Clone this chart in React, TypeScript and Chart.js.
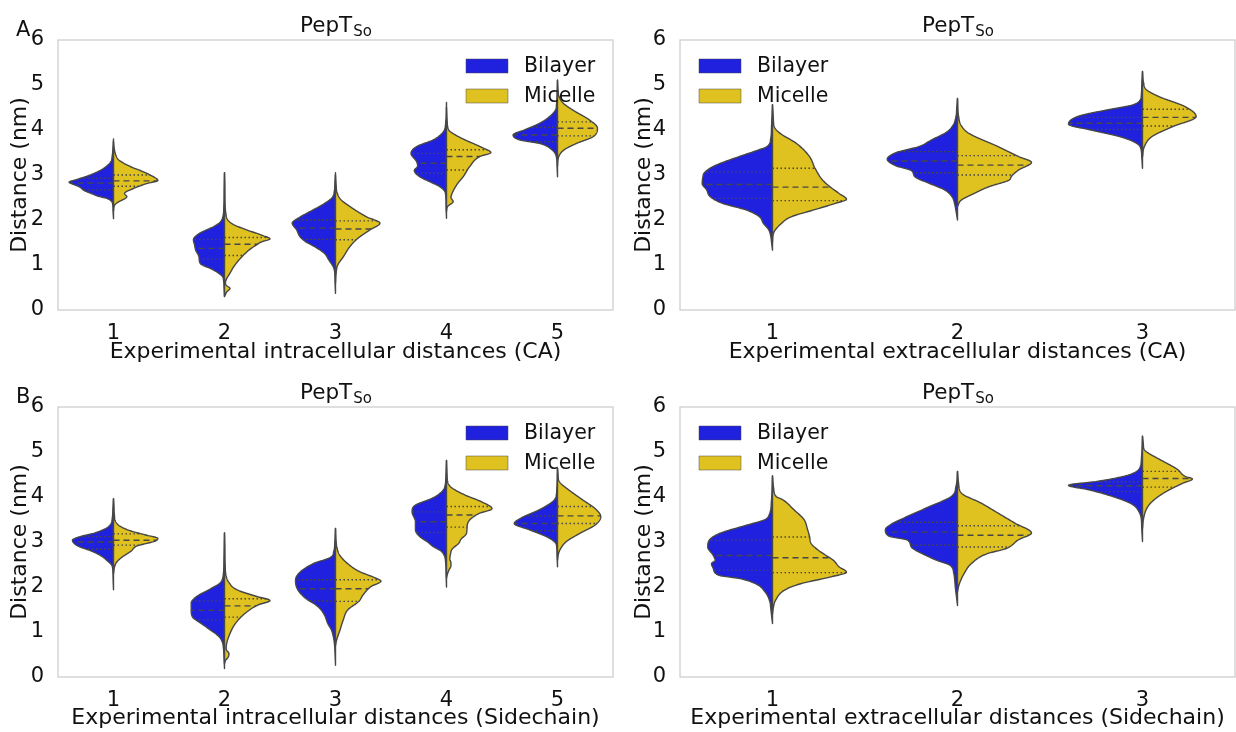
import React, { useEffect, useRef } from "react";
import { Chart, registerables } from "chart.js";

Chart.register(...registerables);

// ---- series, categories, axis ticks ----
const SERIES = ["Bilayer", "Micelle"];
const SERIES_COLORS = ["#2020df", "#dfc120"];
const EDGE = "#474747";
const FONT = "'DejaVu Sans', sans-serif";
const TEXT = "#111111";

const intraCategories = ["1", "2", "3", "4", "5"];
const extraCategories = ["1", "2", "3"];
const yTickValues = [0, 1, 2, 3, 4, 5, 6];

// Density profiles: [distance (nm), half-width] from the lower tail to the upper tail.
// Quartiles: [Q1, median, Q3] for every category.

// A, intracellular (CA)
const intraCABilayer = [
  [[2.03, 0], [2.2, 0.004], [2.36, 0.008], [2.42, 0.02], [2.48, 0.06], [2.53, 0.14], [2.58, 0.19], [2.65, 0.26], [2.74, 0.31], [2.8, 0.37], [2.84, 0.4], [2.9, 0.33], [3.0, 0.21], [3.1, 0.12], [3.2, 0.06], [3.3, 0.025], [3.45, 0.01], [3.6, 0.005], [3.8, 0]],
  [[0.3, 0], [0.5, 0.004], [0.65, 0.008], [0.75, 0.02], [0.89, 0.1], [1.04, 0.22], [1.18, 0.23], [1.33, 0.26], [1.45, 0.27], [1.56, 0.28], [1.71, 0.22], [1.85, 0.1], [1.95, 0.04], [2.07, 0.015], [2.3, 0.006], [2.7, 0.003], [3.05, 0]],
  [[0.37, 0], [0.6, 0.004], [0.85, 0.008], [0.96, 0.02], [1.11, 0.06], [1.26, 0.1], [1.41, 0.19], [1.52, 0.27], [1.63, 0.32], [1.78, 0.35], [1.93, 0.39], [2.05, 0.33], [2.2, 0.22], [2.35, 0.11], [2.5, 0.03], [2.65, 0.01], [2.85, 0.005], [3.05, 0]],
  [[2.04, 0], [2.3, 0.004], [2.6, 0.01], [2.74, 0.06], [2.85, 0.15], [2.96, 0.24], [3.1, 0.29], [3.2, 0.26], [3.3, 0.27], [3.48, 0.32], [3.63, 0.27], [3.78, 0.12], [3.9, 0.05], [4.0, 0.02], [4.2, 0.006], [4.61, 0]],
  [[2.96, 0], [3.2, 0.004], [3.4, 0.01], [3.56, 0.05], [3.7, 0.16], [3.78, 0.34], [3.89, 0.4], [4.0, 0.3], [4.15, 0.16], [4.3, 0.07], [4.44, 0.02], [4.6, 0.008], [4.8, 0.004], [5.11, 0]],
];
const intraCAMicelle = [
  [[2.2, 0], [2.33, 0.01], [2.41, 0.05], [2.47, 0.1], [2.52, 0.12], [2.59, 0.1], [2.7, 0.18], [2.81, 0.3], [2.88, 0.4], [2.96, 0.36], [3.07, 0.27], [3.19, 0.15], [3.33, 0.05], [3.45, 0.02], [3.6, 0.006], [3.75, 0]],
  [[0.3, 0], [0.4, 0.02], [0.48, 0.05], [0.54, 0.02], [0.6, 0.008], [0.7, 0.02], [0.82, 0.05], [0.95, 0.08], [1.11, 0.13], [1.33, 0.22], [1.45, 0.29], [1.52, 0.34], [1.58, 0.41], [1.65, 0.35], [1.78, 0.2], [1.9, 0.08], [2.0, 0.03], [2.15, 0.012], [2.4, 0.005], [2.8, 0.003], [3.05, 0]],
  [[0.6, 0], [0.8, 0.005], [1.0, 0.02], [1.18, 0.07], [1.41, 0.13], [1.59, 0.2], [1.78, 0.31], [1.93, 0.4], [2.07, 0.28], [2.3, 0.13], [2.45, 0.05], [2.6, 0.015], [2.8, 0.005], [3.0, 0]],
  [[2.2, 0], [2.3, 0.01], [2.41, 0.06], [2.5, 0.04], [2.59, 0.05], [2.81, 0.1], [2.96, 0.15], [3.19, 0.21], [3.41, 0.3], [3.5, 0.4], [3.6, 0.33], [3.8, 0.15], [3.92, 0.06], [4.0, 0.02], [4.2, 0.006], [4.5, 0]],
  [[3.2, 0], [3.4, 0.01], [3.56, 0.06], [3.7, 0.17], [3.85, 0.32], [4.04, 0.36], [4.22, 0.29], [4.44, 0.14], [4.6, 0.05], [4.74, 0.015], [4.9, 0.005], [5.1, 0]],
];
const intraCABilayerQuartiles = [[2.67, 2.82, 2.93], [1.13, 1.37, 1.57], [1.57, 1.82, 2.0], [3.04, 3.26, 3.48], [3.74, 3.89, 4.06]];
const intraCAMicelleQuartiles = [[2.75, 2.87, 3.0], [1.21, 1.46, 1.61], [1.56, 1.8, 1.98], [3.11, 3.41, 3.56], [3.87, 4.04, 4.18]];

// A, extracellular (CA)
const extraCABilayer = [
  [[1.33, 0], [1.5, 0.005], [1.65, 0.01], [1.78, 0.02], [1.93, 0.05], [2.07, 0.07], [2.22, 0.14], [2.37, 0.27], [2.52, 0.337], [2.67, 0.356], [2.81, 0.38], [2.96, 0.376], [3.04, 0.37], [3.19, 0.32], [3.41, 0.18], [3.55, 0.08], [3.63, 0.03], [3.8, 0.01], [4.1, 0.005], [4.56, 0]],
  [[2.0, 0], [2.2, 0.008], [2.35, 0.015], [2.52, 0.03], [2.67, 0.07], [2.81, 0.15], [2.96, 0.23], [3.1, 0.25], [3.2, 0.33], [3.35, 0.38], [3.5, 0.33], [3.63, 0.21], [3.78, 0.14], [3.95, 0.06], [4.1, 0.025], [4.3, 0.008], [4.5, 0.004], [4.7, 0]],
  [[3.15, 0], [3.4, 0.004], [3.6, 0.01], [3.7, 0.03], [3.85, 0.12], [4.0, 0.28], [4.13, 0.4], [4.3, 0.35], [4.44, 0.2], [4.55, 0.06], [4.63, 0.02], [4.8, 0.006], [5.0, 0.004], [5.3, 0]],
];
const extraCAMicelle = [
  [[1.5, 0], [1.7, 0.005], [1.93, 0.05], [2.07, 0.1], [2.22, 0.22], [2.37, 0.34], [2.46, 0.4], [2.59, 0.36], [2.74, 0.31], [2.89, 0.27], [3.15, 0.23], [3.41, 0.2], [3.7, 0.13], [3.93, 0.04], [4.07, 0.01], [4.3, 0.004], [4.56, 0]],
  [[2.3, 0], [2.44, 0.02], [2.59, 0.09], [2.74, 0.17], [2.89, 0.28], [2.96, 0.29], [3.11, 0.33], [3.28, 0.4], [3.41, 0.33], [3.63, 0.22], [3.93, 0.06], [4.1, 0.02], [4.3, 0.006], [4.7, 0]],
  [[3.4, 0], [3.63, 0.01], [3.85, 0.05], [4.07, 0.16], [4.3, 0.29], [4.52, 0.23], [4.74, 0.09], [4.9, 0.02], [5.05, 0.006], [5.3, 0]],
];
const extraCABilayerQuartiles = [[2.48, 2.79, 3.07], [3.05, 3.31, 3.52], [4.01, 4.15, 4.28]];
const extraCAMicelleQuartiles = [[2.43, 2.73, 3.15], [3.0, 3.22, 3.43], [4.09, 4.28, 4.46]];

// B, intracellular (Sidechain)
const intraSCBilayer = [
  [[1.94, 0], [2.2, 0.004], [2.45, 0.01], [2.5, 0.02], [2.57, 0.05], [2.69, 0.11], [2.8, 0.2], [2.91, 0.32], [3.04, 0.37], [3.12, 0.3], [3.2, 0.17], [3.3, 0.07], [3.4, 0.025], [3.55, 0.01], [3.75, 0.005], [3.96, 0]],
  [[0.19, 0], [0.4, 0.004], [0.65, 0.01], [0.78, 0.02], [0.9, 0.05], [1.04, 0.125], [1.19, 0.21], [1.34, 0.29], [1.49, 0.3], [1.64, 0.3], [1.79, 0.25], [1.94, 0.14], [2.09, 0.04], [2.25, 0.012], [2.6, 0.005], [3.2, 0]],
  [[0.26, 0], [0.5, 0.004], [0.75, 0.01], [0.9, 0.02], [1.04, 0.036], [1.19, 0.07], [1.38, 0.1], [1.57, 0.16], [1.75, 0.27], [1.94, 0.34], [2.13, 0.36], [2.24, 0.35], [2.39, 0.29], [2.54, 0.18], [2.65, 0.05], [2.8, 0.015], [3.0, 0.006], [3.3, 0]],
  [[2.0, 0], [2.3, 0.004], [2.55, 0.008], [2.7, 0.02], [2.8, 0.05], [2.9, 0.12], [3.0, 0.17], [3.12, 0.24], [3.27, 0.28], [3.45, 0.28], [3.67, 0.31], [3.82, 0.28], [3.97, 0.13], [4.1, 0.05], [4.23, 0.015], [4.5, 0.005], [4.81, 0]],
  [[2.45, 0], [2.7, 0.004], [2.9, 0.008], [2.97, 0.015], [3.05, 0.05], [3.12, 0.1], [3.27, 0.25], [3.41, 0.39], [3.53, 0.33], [3.71, 0.17], [3.85, 0.07], [3.97, 0.02], [4.2, 0.006], [4.64, 0]],
];
const intraSCMicelle = [
  [[2.3, 0], [2.45, 0.01], [2.54, 0.025], [2.65, 0.07], [2.8, 0.16], [2.91, 0.21], [3.02, 0.375], [3.08, 0.4], [3.15, 0.3], [3.25, 0.15], [3.35, 0.06], [3.45, 0.02], [3.6, 0.008], [3.8, 0.004], [3.96, 0]],
  [[0.3, 0], [0.37, 0.01], [0.45, 0.035], [0.52, 0.04], [0.62, 0.015], [0.75, 0.02], [0.97, 0.05], [1.16, 0.09], [1.31, 0.14], [1.46, 0.21], [1.6, 0.3], [1.7, 0.41], [1.79, 0.29], [1.94, 0.11], [2.1, 0.04], [2.24, 0.015], [2.5, 0.006], [2.9, 0.003], [3.2, 0]],
  [[0.7, 0], [0.82, 0.01], [1.04, 0.04], [1.27, 0.07], [1.49, 0.11], [1.68, 0.21], [1.83, 0.25], [2.01, 0.32], [2.13, 0.41], [2.2, 0.36], [2.35, 0.21], [2.54, 0.1], [2.7, 0.04], [2.85, 0.015], [3.0, 0.006], [3.3, 0]],
  [[2.2, 0], [2.3, 0.01], [2.39, 0.025], [2.47, 0.04], [2.54, 0.04], [2.62, 0.03], [2.72, 0.035], [2.84, 0.05], [2.97, 0.11], [3.06, 0.13], [3.19, 0.18], [3.41, 0.19], [3.63, 0.29], [3.74, 0.41], [3.9, 0.31], [4.04, 0.17], [4.2, 0.05], [4.3, 0.015], [4.5, 0.005], [4.81, 0]],
  [[2.6, 0], [2.75, 0.01], [2.86, 0.03], [3.01, 0.08], [3.19, 0.2], [3.38, 0.34], [3.56, 0.39], [3.74, 0.34], [3.93, 0.23], [4.16, 0.1], [4.3, 0.03], [4.38, 0.01], [4.5, 0.005], [4.64, 0]],
];
const intraSCBilayerQuartiles = [[2.84, 3.0, 3.12], [1.27, 1.48, 1.69], [1.69, 1.96, 2.16], [3.21, 3.45, 3.67], [3.25, 3.41, 3.58]];
const intraSCMicelleQuartiles = [[2.93, 3.04, 3.18], [1.33, 1.58, 1.74], [1.68, 1.96, 2.16], [3.33, 3.6, 3.79], [3.41, 3.58, 3.79]];

// B, extracellular (Sidechain)
const extraSCBilayer = [
  [[1.19, 0], [1.4, 0.006], [1.55, 0.01], [1.67, 0.014], [1.89, 0.04], [2.07, 0.09], [2.19, 0.18], [2.26, 0.29], [2.41, 0.32], [2.52, 0.33], [2.59, 0.31], [2.7, 0.32], [2.89, 0.35], [3.05, 0.34], [3.2, 0.28], [3.35, 0.16], [3.5, 0.04], [3.64, 0.015], [3.9, 0.006], [4.47, 0]],
  [[1.59, 0], [1.8, 0.006], [2.0, 0.012], [2.15, 0.015], [2.3, 0.02], [2.48, 0.04], [2.59, 0.11], [2.74, 0.19], [2.89, 0.25], [3.04, 0.27], [3.13, 0.37], [3.27, 0.39], [3.39, 0.36], [3.57, 0.27], [3.79, 0.15], [4.01, 0.034], [4.24, 0.008], [4.57, 0]],
  [[3.01, 0], [3.3, 0.004], [3.55, 0.008], [3.68, 0.02], [3.79, 0.04], [3.87, 0.07], [4.01, 0.16], [4.16, 0.29], [4.26, 0.4], [4.35, 0.24], [4.46, 0.1], [4.55, 0.04], [4.65, 0.015], [4.9, 0.005], [5.35, 0]],
];
const extraSCMicelle = [
  [[1.4, 0], [1.55, 0.005], [1.7, 0.016], [1.93, 0.065], [2.07, 0.15], [2.22, 0.31], [2.33, 0.4], [2.45, 0.36], [2.59, 0.33], [2.7, 0.29], [2.81, 0.25], [2.96, 0.21], [3.13, 0.2], [3.27, 0.19], [3.5, 0.17], [3.72, 0.115], [3.94, 0.055], [4.01, 0.02], [4.2, 0.006], [4.47, 0]],
  [[1.9, 0], [2.07, 0.01], [2.3, 0.036], [2.52, 0.075], [2.74, 0.16], [2.85, 0.26], [3.05, 0.33], [3.2, 0.4], [3.42, 0.31], [3.64, 0.22], [3.87, 0.125], [4.09, 0.02], [4.3, 0.006], [4.57, 0]],
  [[3.3, 0], [3.5, 0.005], [3.72, 0.02], [3.87, 0.045], [4.09, 0.115], [4.31, 0.22], [4.4, 0.27], [4.46, 0.23], [4.61, 0.19], [4.83, 0.095], [4.98, 0.03], [5.05, 0.01], [5.2, 0.004], [5.35, 0]],
];
const extraSCBilayerQuartiles = [[2.37, 2.7, 3.04], [2.93, 3.22, 3.44], [4.12, 4.25, 4.34]];
const extraSCMicelleQuartiles = [[2.32, 2.65, 3.11], [2.89, 3.15, 3.36], [4.22, 4.41, 4.57]];

// ---- panel layout ----
type Panel = {
  left: number; top: number; width: number; height: number;
  padTop: number; padRight: number; yAxisWidth: number; xAxisHeight: number; yTitlePad: number;
  categories: string[]; xTitle: string; legendSide: "left" | "right"; letter?: string;
  profiles: number[][][][]; quartiles: number[][][];
};

const PANELS: Panel[] = [
  { left: 0, top: 0, width: 620, height: 366, padTop: 40, padRight: 7, yAxisWidth: 58, xAxisHeight: 56, yTitlePad: 7,
    categories: intraCategories, xTitle: "Experimental intracellular distances (CA)", legendSide: "right", letter: "A",
    profiles: [intraCABilayer, intraCAMicelle], quartiles: [intraCABilayerQuartiles, intraCAMicelleQuartiles] },
  { left: 620, top: 0, width: 616, height: 366, padTop: 40, padRight: 1, yAxisWidth: 60, xAxisHeight: 56, yTitlePad: 11,
    categories: extraCategories, xTitle: "Experimental extracellular distances (CA)", legendSide: "left",
    profiles: [extraCABilayer, extraCAMicelle], quartiles: [extraCABilayerQuartiles, extraCAMicelleQuartiles] },
  { left: 0, top: 366, width: 620, height: 366, padTop: 41, padRight: 7, yAxisWidth: 58, xAxisHeight: 55, yTitlePad: 7,
    categories: intraCategories, xTitle: "Experimental intracellular distances (Sidechain)", legendSide: "right", letter: "B",
    profiles: [intraSCBilayer, intraSCMicelle], quartiles: [intraSCBilayerQuartiles, intraSCMicelleQuartiles] },
  { left: 620, top: 366, width: 616, height: 366, padTop: 41, padRight: 1, yAxisWidth: 60, xAxisHeight: 55, yTitlePad: 11,
    categories: extraCategories, xTitle: "Experimental extracellular distances (Sidechain)", legendSide: "left",
    profiles: [extraSCBilayer, extraSCMicelle], quartiles: [extraSCBilayerQuartiles, extraSCMicelleQuartiles] },
];

// Monotone cubic (Fritsch-Carlson) interpolation of half-width along the distance axis.
function monotoneInterp(pts: number[][]) {
  const n = pts.length;
  const xs = pts.map((p) => p[0]);
  const ys = pts.map((p) => p[1]);
  const d: number[] = [];
  for (let i = 0; i < n - 1; i++) d.push((ys[i + 1] - ys[i]) / (xs[i + 1] - xs[i]));
  const m: number[] = new Array(n).fill(0);
  m[0] = d[0];
  m[n - 1] = d[n - 2];
  for (let i = 1; i < n - 1; i++) m[i] = d[i - 1] * d[i] <= 0 ? 0 : (d[i - 1] + d[i]) / 2;
  for (let i = 0; i < n - 1; i++) {
    if (d[i] === 0) { m[i] = 0; m[i + 1] = 0; continue; }
    const a = m[i] / d[i];
    const b = m[i + 1] / d[i];
    const s = a * a + b * b;
    if (s > 9) {
      const t = 3 / Math.sqrt(s);
      m[i] = t * a * d[i];
      m[i + 1] = t * b * d[i];
    }
  }
  return (x: number) => {
    if (x <= xs[0]) return ys[0];
    if (x >= xs[n - 1]) return ys[n - 1];
    let i = 0;
    while (i < n - 2 && x > xs[i + 1]) i++;
    const h = xs[i + 1] - xs[i];
    const t = (x - xs[i]) / h;
    const t2 = t * t, t3 = t2 * t;
    return (2 * t3 - 3 * t2 + 1) * ys[i] + (t3 - 2 * t2 + t) * h * m[i] + (-2 * t3 + 3 * t2) * ys[i + 1] + (t3 - t2) * h * m[i + 1];
  };
}

function makeViolinPlugin(panel: Panel) {
  return {
    id: "violinPanel",
    afterDatasetsDraw(chart: any) {
      const { ctx, chartArea: ca } = chart;
      const xs = chart.scales.x;
      const ys = chart.scales.y;
      ctx.save();

      // frame
      ctx.strokeStyle = "#cccccc";
      ctx.lineWidth = 1.25;
      ctx.strokeRect(ca.left, ca.top, ca.right - ca.left, ca.bottom - ca.top);

      // split violins
      panel.categories.forEach((_, ci) => {
        const center = ci + 1;
        chart.data.datasets.forEach((ds: any, si: number) => {
          const side = si === 0 ? -1 : 1;
          const profile = panel.profiles[si][ci];
          const quart = panel.quartiles[si][ci];
          const f = monotoneInterp(profile);
          const v0 = profile[0][0];
          const v1 = profile[profile.length - 1][0];
          const N = 260;
          ctx.beginPath();
          ctx.moveTo(xs.getPixelForValue(center), ys.getPixelForValue(v0));
          for (let k = 0; k <= N; k++) {
            const v = v0 + ((v1 - v0) * k) / N;
            const w = Math.max(0, f(v));
            ctx.lineTo(xs.getPixelForValue(center + side * w), ys.getPixelForValue(v));
          }
          ctx.lineTo(xs.getPixelForValue(center), ys.getPixelForValue(v1));
          ctx.closePath();
          ctx.fillStyle = ds.backgroundColor;
          ctx.fill();
          ctx.strokeStyle = EDGE;
          ctx.lineWidth = 1.4;
          ctx.lineJoin = "round";
          ctx.setLineDash([]);
          ctx.stroke();

          ctx.lineWidth = 1.4;
          quart.forEach((q, qi) => {
            ctx.setLineDash(qi === 1 ? [6, 4] : [1.5, 2.5]);
            const w = Math.max(0, f(q));
            ctx.beginPath();
            ctx.moveTo(xs.getPixelForValue(center), ys.getPixelForValue(q));
            ctx.lineTo(xs.getPixelForValue(center + side * w), ys.getPixelForValue(q));
            ctx.stroke();
          });
          ctx.setLineDash([]);
        });
      });

      // legend
      const lx = panel.legendSide === "right" ? ca.right - 147 : ca.left + 19;
      chart.data.datasets.forEach((ds: any, si: number) => {
        const top = ca.top + 19 + si * 30;
        ctx.fillStyle = ds.backgroundColor;
        ctx.fillRect(lx, top, 42, 14);
        ctx.strokeStyle = "rgba(70,70,70,0.6)";
        ctx.lineWidth = 0.8;
        ctx.strokeRect(lx, top, 42, 14);
        ctx.fillStyle = TEXT;
        ctx.font = `20.5px ${FONT}`;
        ctx.textAlign = "left";
        ctx.textBaseline = "middle";
        ctx.fillText(ds.label, lx + 58, top + 8);
      });

      // title with subscript
      const main = "PepT";
      const sub = "So";
      ctx.textBaseline = "alphabetic";
      ctx.font = `21.5px ${FONT}`;
      const wMain = ctx.measureText(main).width;
      ctx.font = `15px ${FONT}`;
      const wSub = ctx.measureText(sub).width;
      const cx = (ca.left + ca.right) / 2;
      const startX = cx - (wMain + wSub) / 2;
      const base = ca.top - 8;
      ctx.fillStyle = TEXT;
      ctx.font = `21.5px ${FONT}`;
      ctx.fillText(main, startX, base);
      ctx.font = `15px ${FONT}`;
      ctx.fillText(sub, startX + wMain + 1, base + 3.5);

      // panel letter
      if (panel.letter) {
        ctx.font = `21px ${FONT}`;
        ctx.fillText(panel.letter, 16, ca.top - 4);
      }
      ctx.restore();
    },
  };
}

function ViolinPanel({ panel }: { panel: Panel }) {
  const ref = useRef<HTMLCanvasElement | null>(null);
  useEffect(() => {
    if (!ref.current) return;
    const cats = panel.categories;
    const chart = new Chart(ref.current, {
      type: "scatter",
      data: {
        datasets: SERIES.map((label, i) => ({ label, data: [], backgroundColor: SERIES_COLORS[i], borderColor: EDGE })),
      },
      options: {
        animation: false,
        responsive: false,
        devicePixelRatio: 1,
        layout: { padding: { top: panel.padTop, right: panel.padRight, left: 0, bottom: 0 } },
        plugins: { legend: { display: false }, tooltip: { enabled: false } },
        scales: {
          x: {
            type: "linear",
            min: 0.5,
            max: cats.length + 0.5,
            grid: { display: false },
            border: { display: false },
            afterBuildTicks: (axis: any) => {
              axis.ticks = cats.map((_, i) => ({ value: i + 1 }));
            },
            ticks: {
              autoSkip: false,
              maxRotation: 0,
              padding: 3,
              color: TEXT,
              font: { family: FONT, size: 21 },
              callback: (v: any) => cats[Math.round(Number(v)) - 1],
            },
            title: {
              display: true,
              text: panel.xTitle,
              color: TEXT,
              font: { family: FONT, size: 22 },
              padding: { top: 0, bottom: 1 },
            },
            afterFit: (s: any) => { s.height = panel.xAxisHeight; },
          },
          y: {
            type: "linear",
            min: 0,
            max: 6,
            grid: { display: false },
            border: { display: false },
            afterBuildTicks: (axis: any) => {
              axis.ticks = yTickValues.map((v) => ({ value: v }));
            },
            ticks: { padding: 6, color: TEXT, font: { family: FONT, size: 21 } },
            title: {
              display: true,
              text: "Distance (nm)",
              color: TEXT,
              font: { family: FONT, size: 22 },
              padding: { top: panel.yTitlePad, bottom: 0 },
            },
            afterFit: (s: any) => { s.width = panel.yAxisWidth; },
          },
        },
      },
      plugins: [makeViolinPlugin(panel)],
    } as any);
    return () => chart.destroy();
  }, [panel]);

  return (
    <div style={{ position: "absolute", left: panel.left, top: panel.top, width: panel.width, height: panel.height }}>
      <canvas ref={ref} width={panel.width} height={panel.height} style={{ display: "block" }} />
    </div>
  );
}

export default function App() {
  return (
    <div style={{ position: "absolute", left: 0, top: 0, width: 1236, height: 732, background: "#ffffff", overflow: "hidden" }}>
      {PANELS.map((p, i) => (
        <ViolinPanel key={i} panel={p} />
      ))}
    </div>
  );
}
